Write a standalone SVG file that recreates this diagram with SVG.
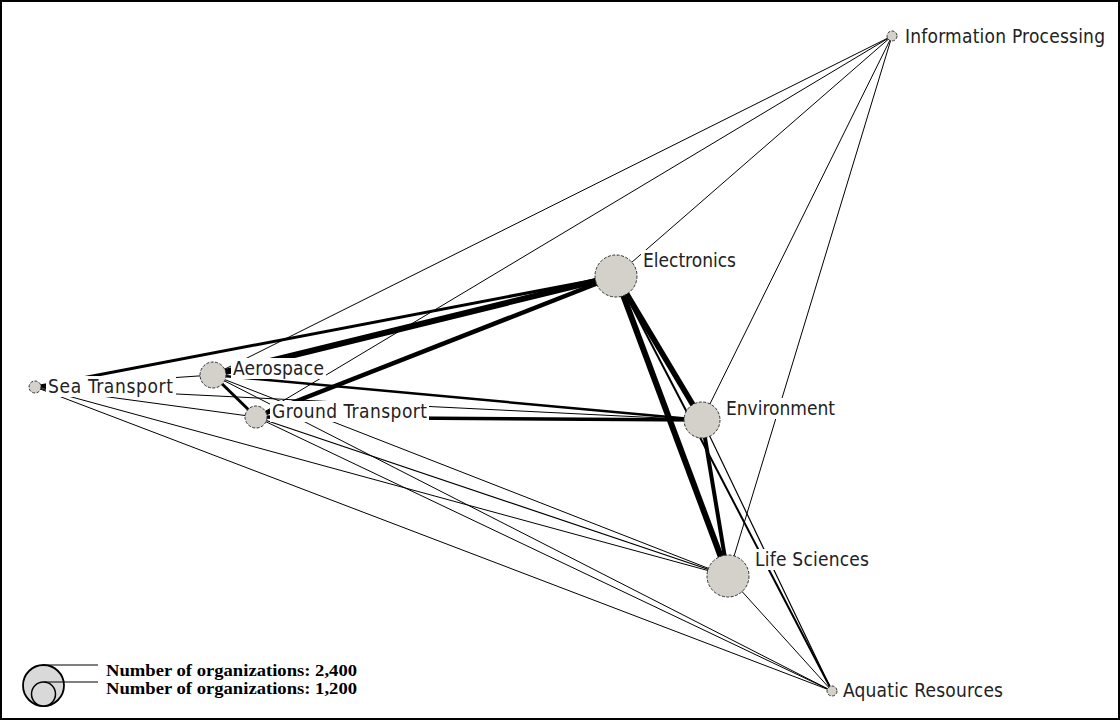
<svg xmlns="http://www.w3.org/2000/svg" width="1120" height="720" viewBox="0 0 1120 720">
<style>
.e{stroke:#000;fill:none;stroke-linecap:butt}
.n{fill:#d4d1cb;stroke:#333;stroke-width:1;stroke-dasharray:3 1.5}
.bg{fill:#fff}
.t{font-family:"DejaVu Sans Condensed","DejaVu Sans",sans-serif;font-size:19px;fill:#222}
.lg{font-family:"Liberation Serif",serif;font-weight:bold;font-size:16.5px;fill:#000}
</style>
<rect x="0" y="0" width="1120" height="720" fill="#fff"/>
<g id="connectors">
<line class="e" stroke-width="1" x1="892" y1="36" x2="213" y2="375"/>
<line class="e" stroke-width="1" x1="892" y1="36" x2="256" y2="417"/>
<line class="e" stroke-width="1" x1="892" y1="36" x2="616" y2="276"/>
<line class="e" stroke-width="1" x1="892" y1="36" x2="702" y2="420"/>
<line class="e" stroke-width="1" x1="892" y1="36" x2="728" y2="576"/>
<line class="e" stroke-width="1" x1="35" y1="387" x2="213" y2="375"/>
<line class="e" stroke-width="1" x1="35" y1="387" x2="256" y2="417"/>
<line class="e" stroke-width="1" x1="35" y1="387" x2="702" y2="420"/>
<line class="e" stroke-width="1" x1="35" y1="387" x2="728" y2="576"/>
<line class="e" stroke-width="1" x1="35" y1="387" x2="832" y2="691"/>
<line class="e" stroke-width="1" x1="213" y1="375" x2="728" y2="576"/>
<line class="e" stroke-width="1" x1="213" y1="375" x2="832" y2="691"/>
<line class="e" stroke-width="1.2" x1="256" y1="417" x2="728" y2="576"/>
<line class="e" stroke-width="1" x1="256" y1="417" x2="832" y2="691"/>
<line class="e" stroke-width="1.2" x1="702" y1="420" x2="832" y2="691"/>
<line class="e" stroke-width="1" x1="728" y1="576" x2="832" y2="691"/>
<line class="e" stroke-width="2" x1="616" y1="276" x2="832" y2="691"/>
<line class="e" stroke-width="2.5" x1="213" y1="375" x2="702" y2="420"/>
<line class="e" stroke-width="3" x1="213" y1="375" x2="256" y2="417"/>
<line class="e" stroke-width="3.5" x1="256" y1="417" x2="702" y2="420"/>
<line class="e" stroke-width="3" x1="35" y1="387" x2="616" y2="276"/>
<line class="e" stroke-width="6" x1="213" y1="375" x2="616" y2="276"/>
<line class="e" stroke-width="4.5" x1="256" y1="417" x2="616" y2="276"/>
<line class="e" stroke-width="5.5" x1="616" y1="276" x2="702" y2="420"/>
<line class="e" stroke-width="6" x1="616" y1="276" x2="728" y2="576"/>
<line class="e" stroke-width="4" x1="702" y1="420" x2="728" y2="576"/>
</g>
<g id="node-information-processing">
<rect class="bg" x="903" y="26" width="205" height="21"/>
<circle class="n" cx="892" cy="36" r="5"/>
<text class="t" x="905" y="43" textLength="200" lengthAdjust="spacing">Information Processing</text>
</g>
<g id="node-electronics">
<rect class="bg" x="641" y="250" width="98" height="21"/>
<circle class="n" cx="616" cy="276" r="21"/>
<text class="t" x="643" y="267" textLength="93" lengthAdjust="spacing">Electronics</text>
</g>
<g id="node-aerospace">
<rect class="bg" x="231" y="358" width="95" height="21"/>
<circle class="n" cx="213" cy="375" r="13"/>
<text class="t" x="233" y="375" textLength="91" lengthAdjust="spacing">Aerospace</text>
</g>
<g id="node-sea-transport">
<rect class="bg" x="46" y="376" width="130" height="21"/>
<circle class="n" cx="35" cy="387" r="6"/>
<text class="t" x="48" y="393" textLength="125" lengthAdjust="spacing">Sea Transport</text>
</g>
<g id="node-ground-transport">
<rect class="bg" x="270" y="401" width="159" height="21"/>
<circle class="n" cx="256" cy="417" r="11"/>
<text class="t" x="272" y="418" textLength="155" lengthAdjust="spacing">Ground Transport</text>
</g>
<g id="node-environment">
<rect class="bg" x="724" y="398" width="113" height="21"/>
<circle class="n" cx="702" cy="420" r="18"/>
<text class="t" x="726" y="415" textLength="109" lengthAdjust="spacing">Environment</text>
</g>
<g id="node-life-sciences">
<rect class="bg" x="753" y="549" width="118" height="21"/>
<circle class="n" cx="728" cy="576" r="21"/>
<text class="t" x="755" y="566" textLength="114" lengthAdjust="spacing">Life Sciences</text>
</g>
<g id="node-aquatic-resources">
<rect class="bg" x="841" y="680" width="165" height="21"/>
<circle class="n" cx="832" cy="691" r="5"/>
<text class="t" x="843" y="697" textLength="160" lengthAdjust="spacing">Aquatic Resources</text>
</g>
<g id="legend">
<circle cx="43.5" cy="685.5" r="20.5" fill="#d9d9d9" stroke="#000" stroke-width="1.8"/>
<circle cx="43.5" cy="694" r="12" fill="#d9d9d9" stroke="#000" stroke-width="1.5"/>
<line x1="43" y1="665" x2="98" y2="665" stroke="#000" stroke-width="1"/>
<line x1="44" y1="682" x2="98" y2="682" stroke="#000" stroke-width="1"/>
<text class="lg" x="106" y="676" textLength="251" lengthAdjust="spacingAndGlyphs">Number of organizations: 2,400</text>
<text class="lg" x="106" y="694" textLength="251" lengthAdjust="spacingAndGlyphs">Number of organizations: 1,200</text>
</g>
<rect x="1" y="1" width="1118" height="718" fill="none" stroke="#000" stroke-width="2"/>
</svg>
